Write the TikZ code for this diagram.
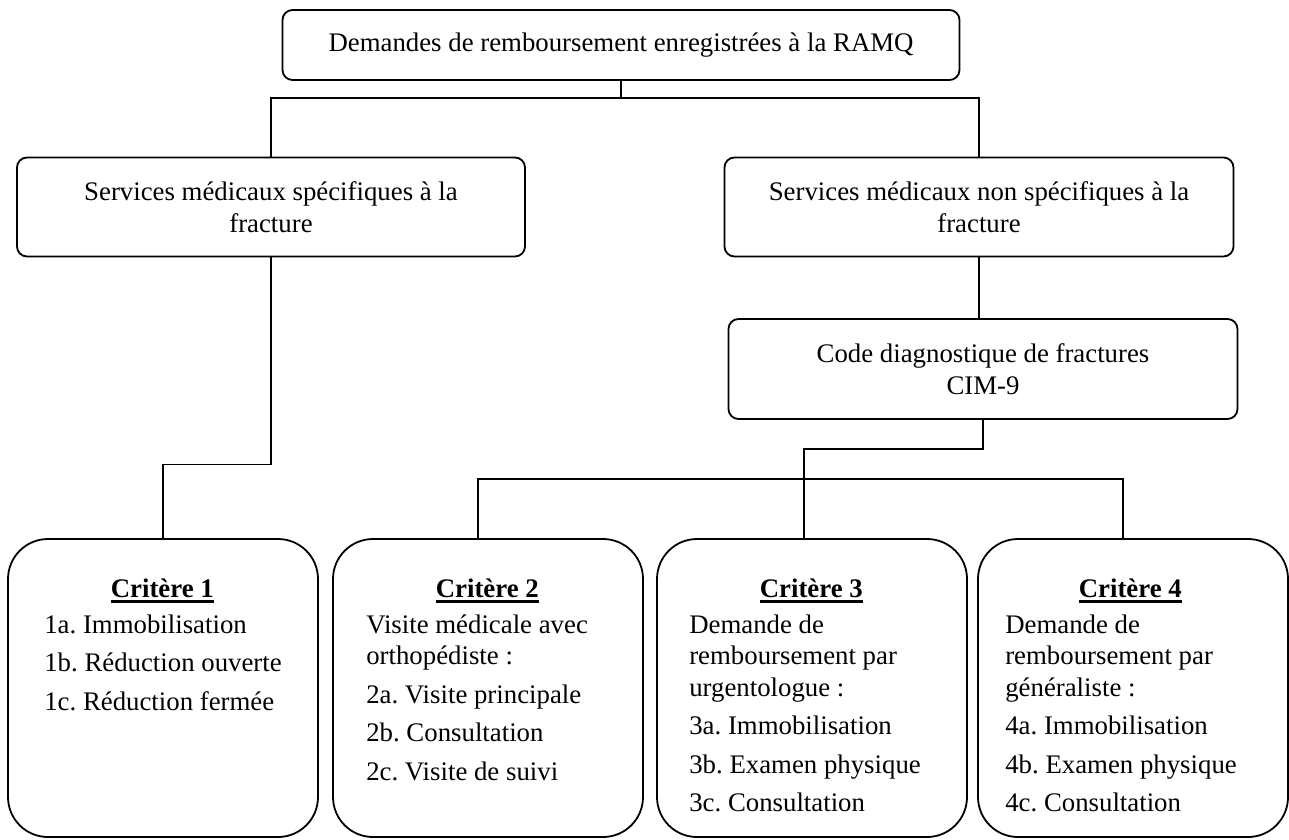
\documentclass[tikz,border=0pt]{standalone}
\usepackage{fontspec}
\setmainfont{Liberation Serif}
\usetikzlibrary{positioning}
\frenchspacing
\newcommand{\ulbold}[1]{\setbox0\hbox{\textbf{#1}}\rlap{\vrule width\wd0 height -2pt depth 5pt}\box0}

\begin{document}
\begin{tikzpicture}[
    x=1pt, y=-1pt,
    box/.style={draw, line width=1.8pt, rounded corners=10pt, align=center, inner sep=0pt, font=\fontsize{26.8}{32}\selectfont},
    critbox/.style={draw, line width=1.8pt, rounded corners=40pt, minimum width=310pt, minimum height=298pt, inner sep=0pt},
    crittext/.style={anchor=north west, text width=270pt, align=flush left, inner sep=0pt, font=\fontsize{26.8}{31.5}\selectfont},
    link/.style={draw, line width=1.8pt}
]
  \useasboundingbox (0,0) rectangle (1289,839);

  \node[box, minimum width=677pt, minimum height=70pt] (ramq) at (621,45) {Demandes de remboursement enregistrées à la RAMQ};
  \node[box, minimum width=508pt, minimum height=99pt] (spec) at (271,207) {Services médicaux spécifiques à la\\fracture};
  \node[box, minimum width=509pt, minimum height=99pt] (nonspec) at (979,207) {Services médicaux non spécifiques à la\\fracture};
  \node[box, minimum width=509pt, minimum height=100pt] (cim) at (983,369) {Code diagnostique de fractures\\CIM-9};

  \foreach \i/\x in {1/163, 2/488, 3/812, 4/1133}
    \node[critbox] (crit\i) at (\x,688) {};

  \node[crittext] (txt1) at ([xshift=37pt,yshift=-41pt]crit1.north west) {%
    \makebox[236pt]{\ulbold{Critère 1}}\\[4pt]
    1a. Immobilisation\\[7pt]
    1b. Réduction ouverte\\[7pt]
    1c. Réduction fermée};
  \node[crittext] (txt2) at ([xshift=34pt,yshift=-41pt]crit2.north west) {%
    \makebox[242pt]{\ulbold{Critère 2}}\\[4pt]
    Visite médicale avec\\
    orthopédiste :\\[7pt]
    2a. Visite principale\\[7pt]
    2b. Consultation\\[7pt]
    2c. Visite de suivi};
  \node[crittext] (txt3) at ([xshift=33pt,yshift=-41pt]crit3.north west) {%
    \makebox[244pt]{\ulbold{Critère 3}}\\[4pt]
    Demande de\\
    remboursement par\\
    urgentologue :\\[7pt]
    3a. Immobilisation\\[7pt]
    3b. Examen physique\\[7pt]
    3c. Consultation};
  \node[crittext] (txt4) at ([xshift=28pt,yshift=-41pt]crit4.north west) {%
    \makebox[250pt]{\ulbold{Critère 4}}\\[4pt]
    Demande de\\
    remboursement par\\
    généraliste :\\[7pt]
    4a. Immobilisation\\[7pt]
    4b. Examen physique\\[7pt]
    4c. Consultation};

  % connectors
  \draw[link] (ramq.south) -- ++(0,17) coordinate (split);
  \draw[link] (spec.north) |- (split) -| (nonspec.north);
  \draw[link] (spec.south) -- ++(0,207) -| (crit1.north);
  \draw[link] (nonspec.south) -- (nonspec.south |- cim.north);
  \draw[link] (cim.south) -- ++(0,29) -| ([xshift=-8pt]crit3.north);
  \draw[link] ([xshift=-10pt]crit2.north) -- ++(0,-59) -| ([xshift=-10pt]crit4.north);
\end{tikzpicture}
\end{document}
